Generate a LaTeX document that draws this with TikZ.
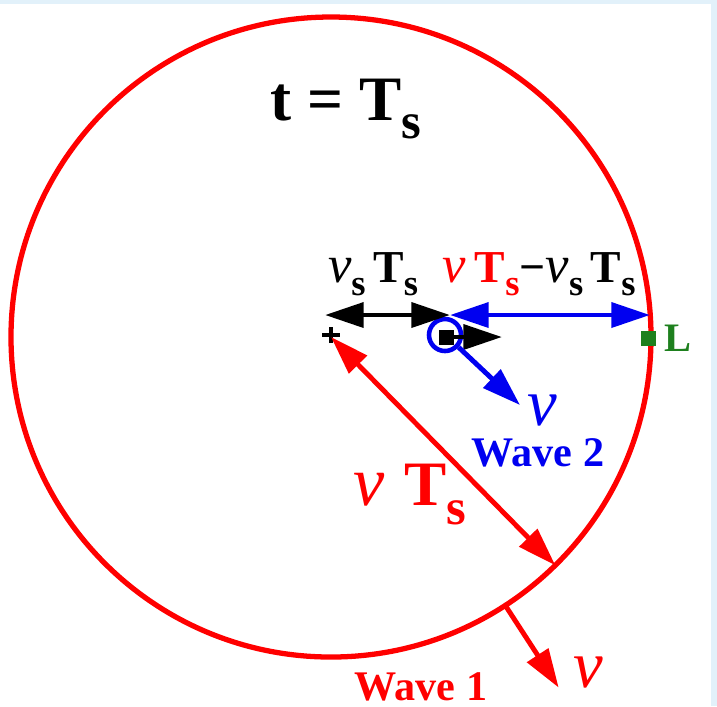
\documentclass[tikz,border=0pt]{standalone}
\usepackage{fontspec}
\setmainfont{Liberation Serif}
\usetikzlibrary{arrows.meta,positioning}
\definecolor{wavered}{RGB}{255,0,0}
\definecolor{waveblue}{RGB}{0,0,240}
\definecolor{obsgreen}{RGB}{30,128,30}
\definecolor{framebg}{RGB}{226,241,250}
\newcommand{\lowsub}[1]{\raisebox{-0.3em}{\scalebox{0.8}{#1}}}
\newcommand{\nuchar}[1]{{\fontsize{#1}{#1}\selectfont\mdseries\itshape ν}}
\tikzset{
    front/.style={draw=wavered, line width=1.5pt},
    dimline/.style={draw=#1, line width=1.4pt,
                    {Triangle[length=11pt,width=7pt]}-{Triangle[length=11pt,width=7pt]}},
    velo/.style={draw=#1, line width=1.4pt, -{Triangle[length=11pt,width=7pt]}},
    bigtxt/.style={text=#1, font=\bfseries\fontsize{18}{20}\selectfont, inner sep=0pt},
    medtxt/.style={text=#1, font=\bfseries\fontsize{12}{14}\selectfont, inner sep=0pt},
    dimtxt/.style={text=#1, font=\bfseries\fontsize{13}{15}\selectfont, inner sep=0pt},
    nutxt/.style={text=#1, font=\itshape\fontsize{19}{20}\selectfont, inner sep=0pt},
    srcsq/.style={fill=#1, minimum size=0.15cm, inner sep=0pt},
}

\begin{document}
\begin{tikzpicture}
    \fill[framebg] (0,0) rectangle (7.17,-0.04);
    \fill[framebg] (7.11,0) rectangle (7.17,-7.06);
    \useasboundingbox (0,0) rectangle (7.17,-7.06);

    % wave 1 front
    \coordinate (ctr) at (3.31,-3.37);
    \draw[front] (ctr) circle (3.2);
    \draw[line width=0.9pt] (ctr) +(-0.09,0.02) -- +(0.09,0.02)
                            (ctr) +(0,-0.06) -- +(0,0.10);
    \path (ctr) ++(-45.5:3.2) coordinate (rim)
          (ctr) ++(-57:3.2) coordinate (w1base)
          (ctr) ++(-57:4.18) coordinate (w1tip);
    \draw[dimline=wavered] (ctr) -- (rim);
    \draw[velo=wavered] (w1base) -- (w1tip);

    % source and wave 2
    \node[srcsq=black] (src) at (4.46,-3.37) {};
    \node[draw=waveblue, circle, line width=1.3pt, minimum size=0.32cm,
          inner sep=0pt] (ring) at (4.45,-3.35) {};
    \coordinate (srctip) at (5.02,-3.37);
    \draw[velo=black] (src.east) -- (srctip);
    \coordinate (w2tip) at (5.20,-4.05);
    \draw[velo=waveblue] (ring.-42) -- (w2tip);

    % distances
    \coordinate (dimL) at (3.25,-3.15);
    \coordinate (dimM) at (4.50,-3.15);
    \coordinate (dimR) at (6.50,-3.15);
    \draw[dimline=black] (dimL) -- (dimM);
    \draw[dimline=waveblue] (dimM) -- (dimR);

    % listener
    \node[srcsq=obsgreen] (obs) at (6.48,-3.38) {};
    \node[medtxt=obsgreen, font=\bfseries\fontsize{11.5}{13}\selectfont,
          right=0.08cm of obs] (obslbl) {L};

    % labels
    \node[bigtxt=black, anchor=base] (title) at (3.46,-1.20) {t = T\lowsub{s}};
    \node[dimtxt=black, anchor=base] (lblvs) at (3.73,-2.82)
        {\nuchar{15}\lowsub{s}\,T\lowsub{s}};
    \node[dimtxt=black, anchor=base] (lblrel) at (5.39,-2.82)
        {\textcolor{wavered}{\nuchar{15}\hspace{0.09cm}T\lowsub{s}}−\nuchar{15}\lowsub{s}\,T\lowsub{s}};
    \node[bigtxt=wavered, anchor=base] (lblrad) at (4.10,-5.05)
        {\nuchar{20}\hspace{0.2cm}T\lowsub{s}};
    \node[nutxt=waveblue] (nuw2) at (5.42,-4.10) {ν};
    \node[medtxt=waveblue, anchor=base] (lblw2) at (5.38,-4.66) {Wave 2};
    \node[nutxt=wavered] (nuw1) at (5.88,-6.72) {ν};
    \node[medtxt=wavered, anchor=base] (lblw1) at (4.21,-7.00) {Wave 1};
\end{tikzpicture}
\end{document}
